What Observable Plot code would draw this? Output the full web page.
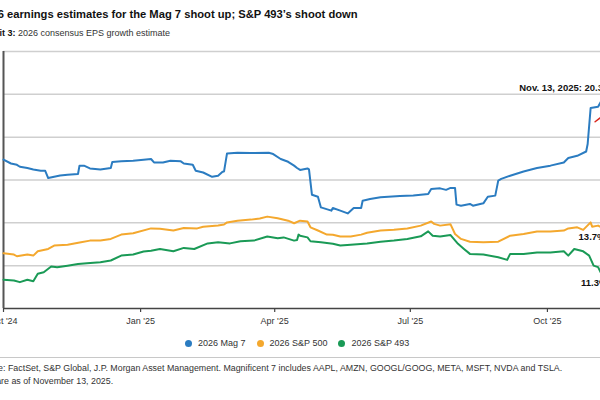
<!DOCTYPE html>
<html><head><meta charset="utf-8">
<script src="https://cdn.jsdelivr.net/npm/d3@7"></script>
<script src="https://cdn.jsdelivr.net/npm/@observablehq/plot@0.6"></script>
<style>
html,body{margin:0;padding:0;background:#fff;}
body{width:600px;height:400px;overflow:hidden;position:relative;font-family:"Liberation Sans",Arial,sans-serif;color:#222;}
#fig{position:absolute;left:-25px;top:0;width:680px;height:400px;}
#title{position:absolute;left:4px;top:8px;font-weight:bold;font-size:11.2px;color:#111;white-space:nowrap;}
#subtitle{position:absolute;left:0px;top:28px;font-size:9px;color:#333;white-space:nowrap;}
#subtitle b{color:#111;}
#chart{position:absolute;left:0;top:40px;}
#legend{position:absolute;left:210px;top:338px;font-size:9px;color:#333;white-space:nowrap;display:flex;align-items:center;}
#legend .item{display:flex;align-items:center;margin-right:11px;}
#legend .dot{width:7px;height:7px;border-radius:50%;margin-right:6px;}
#sep{position:absolute;left:0;top:357px;width:680px;height:1px;background:#c8c8c8;}
#caption{position:absolute;left:0;top:362px;font-size:8.85px;line-height:13px;color:#333;white-space:nowrap;}
</style>
</head><body>
<div id="fig">
  <div id="title"></div>
  <div id="subtitle"></div>
  <div id="chart"></div>
  <div id="legend"></div>
  <div id="sep"></div>
  <div id="caption"></div>
</div>
<script>
const titleText = "2026 earnings estimates for the Mag 7 shoot up; S&P 493\u2019s shoot down";
const subtitleLabel = "Exhibit 3:";
const subtitleText = "2026 consensus EPS growth estimate";
const captionLines = [
  "Source: FactSet, S&P Global, J.P. Morgan Asset Management. Magnificent 7 includes AAPL, AMZN, GOOGL/GOOG, META, MSFT, NVDA and TSLA.",
  "Data are as of November 13, 2025."
];
const seriesNames = ["2026 Mag 7", "2026 S&P 500", "2026 S&P 493"];
const seriesColors = ["#2b7cc1", "#f4a82e", "#1a9a56"];

const mag7Dates = ["2024-10-01","2024-10-06","2024-10-10","2024-10-12","2024-10-17","2024-10-21","2024-10-26","2024-10-29","2024-10-31","2024-11-04","2024-11-08","2024-11-13","2024-11-20","2024-11-21","2024-11-24","2024-11-28","2024-12-05","2024-12-12","2024-12-13","2024-12-19","2024-12-27","2025-01-03","2025-01-08","2025-01-10","2025-01-16","2025-01-21","2025-01-28","2025-01-30","2025-02-05","2025-02-07","2025-02-12","2025-02-18","2025-02-22","2025-02-25","2025-02-26","2025-02-28","2025-03-07","2025-03-16","2025-03-28","2025-03-31","2025-04-05","2025-04-10","2025-04-14","2025-04-16","2025-04-18","2025-04-23","2025-04-24","2025-04-26","2025-04-30","2025-05-02","2025-05-09","2025-05-10","2025-05-15","2025-05-20","2025-05-24","2025-05-29","2025-05-30","2025-06-04","2025-06-11","2025-06-24","2025-07-03","2025-07-13","2025-07-15","2025-07-21","2025-07-25","2025-07-28","2025-07-31","2025-08-01","2025-08-04","2025-08-10","2025-08-12","2025-08-19","2025-08-22","2025-08-27","2025-08-29","2025-08-31","2025-09-06","2025-09-15","2025-09-24","2025-10-03","2025-10-12","2025-10-15","2025-10-21","2025-10-27","2025-10-28","2025-10-30","2025-11-04","2025-11-06","2025-11-13"];
const mag7Values = [16.95,16.77,16.71,16.62,16.56,16.49,16.43,16.43,16.09,16.15,16.21,16.25,16.28,16.67,16.67,16.54,16.49,16.56,16.84,16.87,16.90,16.95,16.98,16.82,16.82,16.90,16.87,16.77,16.71,16.43,16.35,16.15,16.20,16.39,16.40,17.24,17.27,17.26,17.27,17.21,16.98,16.85,16.67,16.56,16.47,16.54,16.50,15.31,15.22,14.72,14.57,14.69,14.57,14.44,14.69,14.69,15.03,15.11,15.19,15.25,15.28,15.35,15.58,15.61,15.54,15.63,15.63,14.85,14.80,14.88,14.80,14.91,15.22,15.27,15.97,16.05,16.20,16.40,16.56,16.67,16.82,17.03,17.13,17.33,17.68,19.36,19.42,19.67,20.3];

const sp500Dates = ["2024-10-01","2024-10-08","2024-10-10","2024-10-17","2024-10-21","2024-10-24","2024-10-31","2024-11-04","2024-11-13","2024-11-22","2024-11-28","2024-12-05","2024-12-12","2024-12-19","2024-12-27","2025-01-08","2025-01-14","2025-01-23","2025-01-30","2025-02-08","2025-02-12","2025-02-22","2025-02-26","2025-02-28","2025-03-07","2025-03-16","2025-03-22","2025-03-27","2025-04-03","2025-04-10","2025-04-14","2025-04-18","2025-04-23","2025-04-25","2025-04-30","2025-05-06","2025-05-10","2025-05-15","2025-05-22","2025-05-29","2025-06-02","2025-06-11","2025-06-20","2025-06-29","2025-07-08","2025-07-15","2025-07-17","2025-07-21","2025-07-28","2025-07-31","2025-08-04","2025-08-10","2025-08-19","2025-08-29","2025-09-06","2025-09-15","2025-09-24","2025-10-03","2025-10-12","2025-10-15","2025-10-21","2025-10-25","2025-10-30","2025-10-31","2025-11-04","2025-11-06","2025-11-13"];
const sp500Values = [12.58,12.52,12.44,12.52,12.47,12.67,12.78,12.94,12.98,13.09,13.17,13.17,13.25,13.45,13.51,13.74,13.72,13.64,13.76,13.74,13.82,13.88,13.92,14.02,14.10,14.15,14.20,14.29,14.21,14.10,13.98,14.10,14.06,13.79,13.64,13.45,13.44,13.36,13.36,13.45,13.54,13.64,13.68,13.74,13.87,14.06,13.95,13.87,13.93,13.48,13.25,13.12,13.09,13.12,13.40,13.48,13.60,13.60,13.64,13.74,13.79,13.67,14.02,13.82,13.87,13.79,13.7];

const sp493Dates = ["2024-10-01","2024-10-08","2024-10-12","2024-10-17","2024-10-21","2024-10-24","2024-10-28","2024-11-02","2024-11-06","2024-11-13","2024-11-20","2024-11-26","2024-12-05","2024-12-12","2024-12-19","2024-12-27","2025-01-03","2025-01-08","2025-01-14","2025-01-23","2025-01-30","2025-02-06","2025-02-15","2025-02-22","2025-03-02","2025-03-09","2025-03-18","2025-03-27","2025-04-03","2025-04-07","2025-04-14","2025-04-16","2025-04-17","2025-04-18","2025-04-23","2025-04-25","2025-05-02","2025-05-10","2025-05-15","2025-05-22","2025-06-02","2025-06-11","2025-06-20","2025-06-29","2025-07-08","2025-07-13","2025-07-16","2025-07-21","2025-07-28","2025-08-02","2025-08-06","2025-08-10","2025-08-19","2025-08-29","2025-09-04","2025-09-06","2025-09-15","2025-09-24","2025-10-03","2025-10-12","2025-10-15","2025-10-19","2025-10-25","2025-10-29","2025-11-01","2025-11-04","2025-11-06","2025-11-13"];
const sp493Values = [11.34,11.31,11.23,11.34,11.27,11.62,11.69,11.96,11.93,12.00,12.08,12.11,12.16,12.24,12.47,12.52,12.66,12.70,12.78,12.67,12.83,12.78,13.04,13.09,13.04,13.14,13.17,13.36,13.28,13.32,13.17,13.20,13.45,13.40,13.32,13.14,13.09,13.02,12.94,12.98,13.04,13.12,13.17,13.25,13.37,13.60,13.40,13.36,13.43,13.02,12.78,12.55,12.52,12.39,12.27,12.55,12.55,12.62,12.62,12.67,12.47,12.78,12.67,12.47,12.00,11.93,11.65,11.3];

const xTickDates = ["2024-10-01","2025-01-01","2025-04-01","2025-07-01","2025-10-01"];
const xTickLabels = ["Oct '24","Jan '25","Apr '25","Jul '25","Oct '25"];
const yTicks = [10,12,14,16,18,20,22];
const endLabels = ["Nov. 13, 2025: 20.3%", "13.7%", "11.3%"];
const endDate = "2025-11-13";
const arrowFrom = {date: "2025-11-02", value: 18.72};
const arrowTo = {date: "2025-11-11", value: 19.2};

// build tables
const parse = s => new Date(s + "T00:00:00Z");
const rows = [];
[[mag7Dates, mag7Values], [sp500Dates, sp500Values], [sp493Dates, sp493Values]].forEach(([ds, vs], i) => {
  ds.forEach((d, j) => rows.push({date: parse(d), value: vs[j], series: seriesNames[i]}));
});
const tickDates = xTickDates.map(parse);
const labelFor = new Map(tickDates.map((d, i) => [+d, xTickLabels[i]]));
const startDate = parse(mag7Dates[0]);
const lastDate = parse(endDate);
const endValues = [mag7Values.at(-1), sp500Values.at(-1), sp493Values.at(-1)];

document.getElementById("title").textContent = titleText;
document.getElementById("subtitle").innerHTML = "<b>" + subtitleLabel + "</b> " + subtitleText;
document.getElementById("caption").innerHTML = captionLines.map(l => "<div>" + l.replace(/&/g, "&amp;") + "</div>").join("");
document.getElementById("legend").innerHTML = seriesNames.map((n, i) =>
  `<span class="item"><span class="dot" style="background:${seriesColors[i]}"></span>${n.replace(/&/g, "&amp;")}</span>`).join("");

const chart = Plot.plot({
  width: 680,
  height: 298,
  marginLeft: 28,
  marginRight: 44,
  marginTop: 11,
  marginBottom: 30,
  style: {fontFamily: "Liberation Sans, Arial, sans-serif", fontSize: "9px", color: "#333", overflow: "visible"},
  x: {type: "utc", domain: [startDate, lastDate]},
  y: {domain: [10, 22]},
  color: {domain: seriesNames, range: seriesColors},
  marks: [
    Plot.gridY(yTicks.filter(t => t > 10), {stroke: "#cfcfcf", strokeOpacity: 1, strokeWidth: 1.5}),
    Plot.axisY(yTicks, {tickSize: 0, tickPadding: 6, tickFormat: d => d + "%", label: null}),
    Plot.axisX(tickDates, {tickSize: 4, tickPadding: 5, tickFormat: d => labelFor.get(+d), label: null, stroke: "#444", strokeWidth: 1.2}),
    Plot.ruleY([10], {stroke: "#444", strokeWidth: 1.5}),
    Plot.ruleX([startDate], {stroke: "#555", strokeWidth: 2}),
    Plot.line(rows, {x: "date", y: "value", z: "series", stroke: "series", strokeWidth: 2, curve: "linear"}),
    Plot.arrow([0], {x1: () => parse(arrowFrom.date), y1: arrowFrom.value, x2: () => parse(arrowTo.date), y2: arrowTo.value, stroke: "#d9261c", strokeWidth: 1.5, headLength: 5}),
    Plot.text([0], {x: () => lastDate, y: endValues[0], text: () => endLabels[0], textAnchor: "end", dx: 0, dy: 0, fontWeight: "bold", fontSize: 9.5, fill: "#111"}),
    Plot.text([0], {x: () => lastDate, y: endValues[1], text: () => endLabels[1], textAnchor: "end", dx: -6, dy: 8, fontWeight: "bold", fontSize: 9.5, fill: "#111"}),
    Plot.text([0], {x: () => lastDate, y: endValues[2], text: () => endLabels[2], textAnchor: "end", dx: -4, dy: 2, fontWeight: "bold", fontSize: 9.5, fill: "#111"})
  ]
});
document.getElementById("chart").appendChild(chart);
</script>
</body></html>
